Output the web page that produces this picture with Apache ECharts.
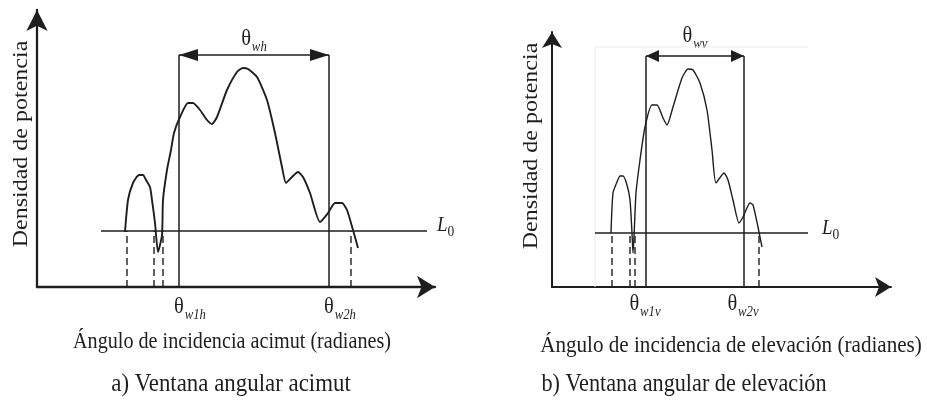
<!DOCTYPE html>
<html><head><meta charset="utf-8">
<script src="https://cdn.jsdelivr.net/npm/echarts@6/dist/echarts.min.js"></script>
<style>html,body{margin:0;padding:0;background:#fff}#c{width:927px;height:403px}</style>
</head><body><div id="c"></div>
<script>
// ---------- DATA (angle units, density units) ----------
// Panel a) azimuth
const curveA = [[88,55],[91,87],[96,104],[102,112],[106,112],[109,107],[113,100],[115,87],[118,64],[121,35],[125,52],[126,87],[130,117],[134,137],[137,154],[143,170],[151,184],[156,184],[163,177],[170,167],[175,163],[180,170],[190,197],[200,215],[206,219],[211,218],[220,210],[230,187],[238,154],[245,120],[249,104],[255,110],[261,115],[266,110],[273,94],[283,65],[291,74],[298,84],[305,84],[310,77],[316,57],[321,39]];
const levelA = 56;            // L0 threshold
const levelSpanA = [64, 390]; // extent of L0 line
const windowA = [142, 292];   // θw1h, θw2h
const windowTopA = 232;       // height of window arrow
const crossingsA = [90, 117, 126, 314];
const axisMaxA = [398, 277];

// Panel b) elevation
const curveB = [[59,54],[61,94],[65,105],[68,111],[71,111],[75,102],[78,87],[80,54],[81,34],[82,50],[84,94],[88,127],[93,160],[100,182],[105,182],[111,169],[115,162],[121,180],[130,209],[136,218],[141,217],[148,204],[155,177],[160,137],[164,104],[172,114],[176,107],[181,87],[187,64],[191,70],[198,84],[201,82],[206,60],[210,40]];
const levelB = 54;
const levelSpanB = [43, 256];
const windowB = [94, 192];
const windowTopB = 231;
const crossingsB = [60, 78, 83, 207];
const axisMaxB = [339, 255];
const faintFrameB = [[43,0],[43,240],[256,240]];

// Texts
const yTitles = ['Densidad de potencia', 'Densidad de potencia'];
const xTitles = ['Ángulo de incidencia acimut (radianes)', 'Ángulo de incidencia de elevación (radianes)'];
const captions = ['a) Ventana angular acimut', 'b) Ventana angular de elevación'];
const windowSubs = ['wh', 'wv'];
const tickSubs = [['w1h', 'w2h'], ['w1v', 'w2v']];
const levelName = ['L', '0'];

// ---------- LAYOUT / STYLE ----------
const INK = '#1e1e1e';
const SERIF = '"Liberation Serif", "Times New Roman", serif';
const panels = [
  {curve: curveA, level: levelA, levelSpan: levelSpanA, win: windowA, winTop: windowTopA, cross: crossingsA, max: axisMaxA,
   grid: {left: 37, top: 10, width: 398, height: 277}, yArrow: [16, 21], xArrow: [17, 18], axisW: 2.3, curveW: 1.9,
   headLen: 19, headHalf: 6, tickDx: 11, tickY: 308, topY: 40, lvlDx: 10, lvlDy: -5,
   yTitle: [22, 144], xTitle: [232, 342, 0.84], caption: [231, 384, 0.88], faint: null},
  {curve: curveB, level: levelB, levelSpan: levelSpanB, win: windowB, winTop: windowTopB, cross: crossingsB, max: axisMaxB,
   grid: {left: 552, top: 32, width: 339, height: 255}, yArrow: [15, 16], xArrow: [15, 16], axisW: 2, curveW: 1.4,
   headLen: 13, headHalf: 6, tickDx: -1, tickY: 305, topY: 37, lvlDx: 14, lvlDy: -4,
   yTitle: [532, 146], xTitle: [731, 346, 0.88], caption: [684, 384, 0.855], faint: faintFrameB}
];

const grids = [], xAxes = [], yAxes = [], series = [];
panels.forEach((p, g) => {
  grids.push(Object.assign({containLabel: false, outerBoundsMode: 'none'}, p.grid));
  const axisBase = (arrow) => ({
    type: 'value', min: 0, gridIndex: g,
    axisLine: {show: true, onZero: false, symbol: ['none', 'arrow'], symbolSize: arrow, lineStyle: {color: INK, width: p.axisW}},
    axisTick: {show: false}, axisLabel: {show: false}, splitLine: {show: false}
  });
  xAxes.push(Object.assign(axisBase(p.xArrow), {max: p.max[0]}));
  yAxes.push(Object.assign(axisBase(p.yArrow), {max: p.max[1]}));
  const line = (data, style, z) => ({
    type: 'line', xAxisIndex: g, yAxisIndex: g, data, showSymbol: false, symbol: 'none', silent: true,
    animation: false, z: z || 2, lineStyle: Object.assign({color: INK, width: 1.5}, style)
  });
  if (p.faint) series.push(line(p.faint, {color: '#ececec', width: 1}, 1));
  series.push(line(p.curve, {width: p.curveW}, 3));
  series[series.length - 1].smooth = 0.2;
  series.push(line([[p.levelSpan[0], p.level], [p.levelSpan[1], p.level]], {width: 1.5}));
  p.win.forEach(x => series.push(line([[x, 0], [x, p.winTop]], {width: 1.5})));
  series.push(line([[p.win[0], p.winTop], [p.win[1], p.winTop]], {width: 1.6}));
  p.cross.forEach(x => series.push(line([[x, 0], [x, p.level]], {width: 1.4, type: [7, 4]})));
  series.push({
    type: 'custom', xAxisIndex: g, yAxisIndex: g, silent: true, animation: false, z: 4,
    data: [[p.win[0], p.winTop, -1], [p.win[1], p.winTop, 1]],
    renderItem: (params, api) => {
      const c = api.coord([api.value(0), api.value(1)]);
      const d = api.value(2);
      return {type: 'polygon', shape: {points: [[c[0], c[1]], [c[0] - d * p.headLen, c[1] - p.headHalf], [c[0] - d * p.headLen, c[1] + p.headHalf]]},
              style: {fill: INK}};
    }
  });
});

const chart = echarts.init(document.getElementById('c'), null, {renderer: 'canvas'});
chart.setOption({animation: false, backgroundColor: '#fff', grid: grids, xAxis: xAxes, yAxis: yAxes, series});

// ---------- TEXT, anchored on the axes' own pixel mapping ----------
const thetaRich = {
  t: {fontSize: 24, fontFamily: SERIF, lineHeight: 26, verticalAlign: 'top', fill: INK},
  s: {fontSize: 15, fontStyle: 'italic', fontFamily: SERIF, lineHeight: 15, padding: [13, 0, 0, 1], verticalAlign: 'top', fill: INK}
};
const levelRich = {
  L: {fontSize: 21, fontStyle: 'italic', fontFamily: SERIF, lineHeight: 22, verticalAlign: 'top', fill: INK},
  z: {fontSize: 15, fontFamily: SERIF, lineHeight: 15, padding: [10, 0, 0, 0], verticalAlign: 'top', fill: INK}
};
const graphics = [];
panels.forEach((p, g) => {
  const toPx = (pt) => chart.convertToPixel({gridIndex: g}, pt);
  const mid = toPx([(p.win[0] + p.win[1]) / 2, p.winTop]);
  graphics.push({type: 'text', x: mid[0], y: p.topY, scaleX: 0.85, silent: true,
    style: {text: '{t|θ}{s|' + windowSubs[g] + '}', rich: thetaRich, textAlign: 'center', textVerticalAlign: 'middle'}});
  p.win.forEach((x, i) => {
    const c = toPx([x, 0]);
    graphics.push({type: 'text', x: c[0] + p.tickDx, y: p.tickY, scaleX: 0.85, silent: true,
      style: {text: '{t|θ}{s|' + tickSubs[g][i] + '}', rich: thetaRich, textAlign: 'center', textVerticalAlign: 'middle'}});
  });
  const le = toPx([p.levelSpan[1], p.level]);
  graphics.push({type: 'text', x: le[0] + p.lvlDx, y: le[1] + p.lvlDy, scaleX: 0.9, silent: true,
    style: {text: '{L|' + levelName[0] + '}{z|' + levelName[1] + '}', rich: levelRich, textAlign: 'left', textVerticalAlign: 'middle'}});
  graphics.push({type: 'text', x: p.yTitle[0], y: p.yTitle[1], rotation: Math.PI / 2, scaleY: 0.85, silent: true,
    style: {text: yTitles[g], font: '24px ' + SERIF, fill: INK, textAlign: 'center', textVerticalAlign: 'middle'}});
  graphics.push({type: 'text', x: p.xTitle[0], y: p.xTitle[1], scaleX: p.xTitle[2], silent: true,
    style: {text: xTitles[g], font: '24px ' + SERIF, fill: INK, textAlign: 'center', textVerticalAlign: 'middle'}});
  graphics.push({type: 'text', x: p.caption[0], y: p.caption[1], scaleX: p.caption[2], silent: true,
    style: {text: captions[g], font: '26px ' + SERIF, fill: INK, textAlign: 'center', textVerticalAlign: 'middle'}});
});
chart.setOption({graphic: graphics});
</script></body></html>
